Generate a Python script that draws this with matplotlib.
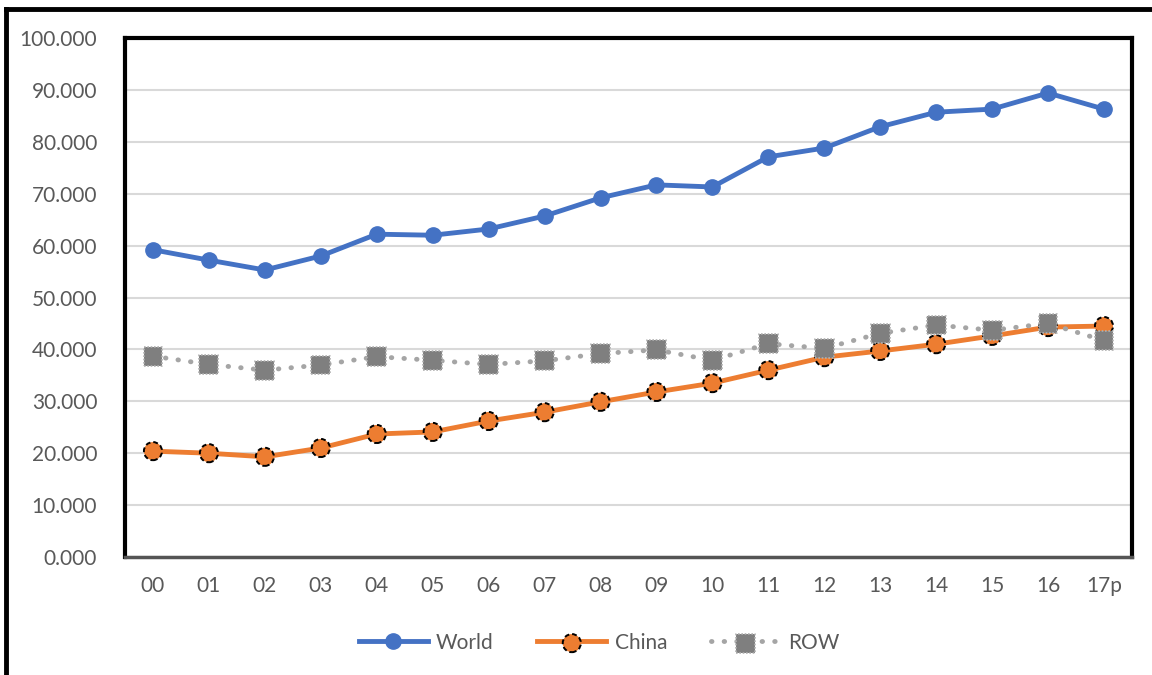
import matplotlib
matplotlib.use("Agg")
import matplotlib.pyplot as plt
from matplotlib.lines import Line2D
from matplotlib.legend_handler import HandlerTuple
import numpy as np

plt.rcParams.update({"font.family": ["Lato", "DejaVu Sans"], "font.size": 15})

BLUE, ORANGE, GREY, LGREY, TXT = "#4472c4", "#ed7d31", "#7f7f7f", "#a5a5a5", "#595959"

years = ["00", "01", "02", "03", "04", "05", "06", "07", "08", "09",
         "10", "11", "12", "13", "14", "15", "16", "17p"]
world = [59.2, 57.2, 55.3, 58.0, 62.2, 62.0, 63.2, 65.7, 69.2, 71.7,
         71.3, 77.1, 78.8, 82.9, 85.7, 86.3, 89.4, 86.3]
china = [20.4, 20.0, 19.3, 21.0, 23.7, 24.1, 26.2, 27.9, 29.9, 31.8,
         33.5, 36.0, 38.5, 39.7, 41.0, 42.6, 44.3, 44.5]
row = [38.7, 37.1, 36.0, 37.0, 38.6, 37.9, 37.1, 37.8, 39.2, 39.9,
       37.9, 41.1, 40.2, 43.1, 44.7, 43.7, 45.0, 41.7]

fig = plt.figure(figsize=(11.52, 6.75), dpi=100)
ax = fig.add_axes([0.1085, 0.1748, 0.8741, 0.7689])
x = np.arange(len(years))

h_world, = ax.plot(x, world, "-o", color=BLUE, lw=3.5, ms=11, mec=BLUE, zorder=3)

# China: solid line + circles with dashed black rim
h_china, = ax.plot(x, china, "-", color=ORANGE, lw=3.5, zorder=4)
s_china = ax.scatter(x, china, s=170, facecolor=ORANGE, edgecolor="black",
                     linewidths=1.4, linestyle=(0, (2.5, 1.5)), zorder=4.5)

# ROW: dotted light grey line + grey squares with dotted rim
h_row, = ax.plot(x, row, color=LGREY, lw=3.5, ls=(0, (0.1, 2.5)),
                 dash_capstyle="round", zorder=5)
s_row = ax.scatter(x, row, s=185, marker="s", facecolor=GREY, edgecolor="#b0b0b0",
                   linewidths=1.2, linestyle=(0, (1, 1)), zorder=5.5)

ax.set_xlim(-0.5, len(years) - 0.5)
ax.set_ylim(0, 100)
ax.set_yticks(np.arange(0, 101, 10))
ax.set_yticklabels([f"{v:.3f}" for v in range(0, 101, 10)])
ax.set_xticks(x)
ax.set_xticklabels(years)
ax.tick_params(length=0, colors=TXT, labelsize=15)
ax.tick_params(axis="y", pad=20)
ax.tick_params(axis="x", pad=14)
ax.yaxis.grid(True, color="#d9d9d9", lw=1.5)
ax.set_axisbelow(True)

for side in ["left", "top", "right"]:
    ax.spines[side].set_linewidth(3)
    ax.spines[side].set_color("black")
ax.spines["bottom"].set_linewidth(2.5)
ax.spines["bottom"].set_color("#555555")

fig.legend([h_world, (h_china, s_china), (h_row, s_row)], ["World", "China", "ROW"],
           handler_map={tuple: HandlerTuple(ndivide=1, pad=0)},
           loc="center", bbox_to_anchor=(0.52, 0.048), ncol=3, frameon=False,
           fontsize=15, labelcolor=TXT, handlelength=3.3, columnspacing=2.1,
           handletextpad=0.4, scatterpoints=1)

# outer frame lines (left and top)
fig.add_artist(Line2D([6 / 1152, 6 / 1152], [0, 1 - 9 / 675], color="black",
                      lw=3.5, transform=fig.transFigure))
fig.add_artist(Line2D([6 / 1152, 1], [1 - 9 / 675, 1 - 9 / 675], color="black",
                      lw=3.5, transform=fig.transFigure))

fig.savefig("out.png", dpi=100)
